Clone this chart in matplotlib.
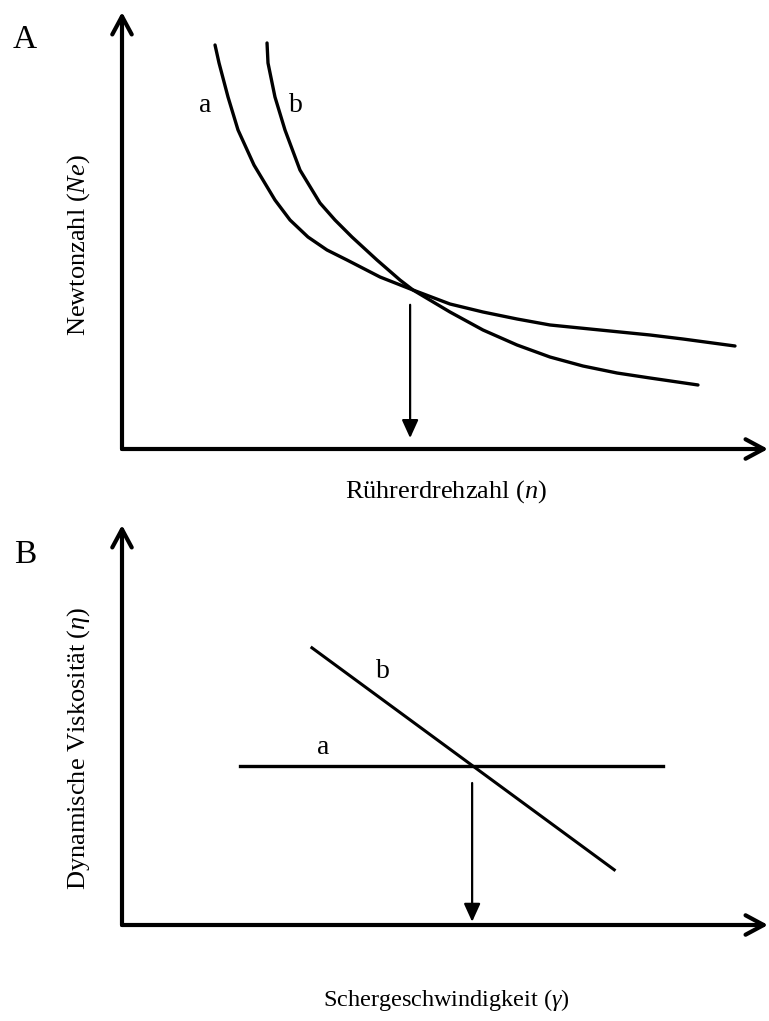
#schematic: Newtonzahl vs Rührerdrehzahl (A) and Viskosität vs Schergeschwindigkeit (B)
import matplotlib
matplotlib.use('Agg')
import matplotlib.pyplot as plt
from matplotlib.patches import FancyArrowPatch

plt.rcParams['font.family'] = ['Liberation Serif', 'DejaVu Serif']
plt.rcParams['mathtext.fontset'] = 'custom'
plt.rcParams['mathtext.rm'] = 'Liberation Serif'
plt.rcParams['mathtext.it'] = 'Liberation Serif:italic'

# panel A curves (arbitrary units 0..10)
a_x = [1.440, 1.502, 1.641, 1.796, 2.043, 2.368, 2.601, 2.879, 3.173, 3.483,
       3.994, 4.505, 5.077, 5.588, 6.115, 6.625, 7.399, 8.173, 8.684, 9.489]
a_y = [9.245, 8.833, 8.055, 7.300, 6.499, 5.698, 5.240, 4.851, 4.554, 4.325,
       3.936, 3.638, 3.318, 3.135, 2.975, 2.838, 2.723, 2.609, 2.517, 2.357]
b_x = [2.245, 2.260, 2.368, 2.523, 2.755, 3.065, 3.297, 3.560, 3.947, 4.303,
       4.505, 5.077, 5.588, 6.115, 6.625, 7.136, 7.663, 8.173, 8.916]
b_y = [9.291, 8.833, 8.055, 7.300, 6.384, 5.629, 5.240, 4.851, 4.325, 3.867,
       3.638, 3.135, 2.723, 2.380, 2.105, 1.899, 1.739, 1.625, 1.465]
arrow_a_x = 4.46
arrow_a_y = [3.30, 0.25]
curve_labels_a = {'a': (1.28, 7.87), 'b': (2.69, 7.87)}

# panel B lines
line_a_x = [1.83, 8.37]
line_a_y = [3.98, 3.98]
line_b_x = [2.94, 7.62]
line_b_y = [6.93, 1.38]
arrow_b_x = 5.42
arrow_b_y = [3.55, 0.08]
curve_labels_b = {'a': (3.11, 4.43), 'b': (4.04, 6.33)}

W, H = 769, 1021
fig = plt.figure(figsize=(W / 100, H / 100), dpi=100)

def make_axes(top_px, bottom_px):
    ax = fig.add_axes([122 / W, (H - bottom_px) / H, (768 - 122) / W, (bottom_px - top_px) / H])
    ax.set_xlim(0, 10)
    ax.set_ylim(0, 10)
    for s in ax.spines.values():
        s.set_visible(False)
    ax.set_xticks([])
    ax.set_yticks([])
    ax.patch.set_alpha(0)
    # axis arrows with open heads
    for end in [(1, 0), (0, 1)]:
        ar = FancyArrowPatch((0, 0), end, transform=ax.transAxes,
                             arrowstyle='->,head_length=13,head_width=7',
                             mutation_scale=1, lw=3, color='black',
                             clip_on=False, shrinkA=0, shrinkB=0)
        ax.add_patch(ar)
    return ax

def down_arrow(ax, x, ys):
    ar = FancyArrowPatch((x, ys[0]), (x, ys[1]),
                         arrowstyle='-|>,head_length=11,head_width=5',
                         mutation_scale=1, lw=1.6, color='black',
                         shrinkA=0, shrinkB=0)
    ax.add_patch(ar)

axA = make_axes(12, 449)
axA.plot(a_x, a_y, color='black', lw=2.4, solid_capstyle='round', solid_joinstyle='round')
axA.plot(b_x, b_y, color='black', lw=2.4, solid_capstyle='round', solid_joinstyle='round')
down_arrow(axA, arrow_a_x, arrow_a_y)
for k, (x, y) in curve_labels_a.items():
    axA.text(x, y, k, fontsize=20, ha='center', va='center')

axB = make_axes(525, 925)
axB.plot(line_a_x, line_a_y, color='black', lw=2.4)
axB.plot(line_b_x, line_b_y, color='black', lw=2.2)
down_arrow(axB, arrow_b_x, arrow_b_y)
for k, (x, y) in curve_labels_b.items():
    axB.text(x, y, k, fontsize=20, ha='center', va='center')

# panel letters and axis titles
fig.text(25 / W, 1 - 40 / H, 'A', fontsize=24, ha='center', va='center')
fig.text(25 / W, 1 - 555 / H, 'B', fontsize=24, ha='center', va='center')
fig.text(446 / W, 1 - 492 / H, 'Rührerdrehzahl ($n$)', fontsize=19, ha='center', va='center')
fig.text(446 / W, 1 - 1000 / H, 'Schergeschwindigkeit ($γ$)', fontsize=17.5, ha='center', va='center')
fig.text(79 / W, 1 - 245 / H, 'Newtonzahl ($Ne$)', fontsize=19, ha='center', va='center', rotation=90)
fig.text(79 / W, 1 - 748 / H, 'Dynamische Viskosität ($η$)', fontsize=19, ha='center', va='center', rotation=90)

plt.savefig('out.png', dpi=100)
